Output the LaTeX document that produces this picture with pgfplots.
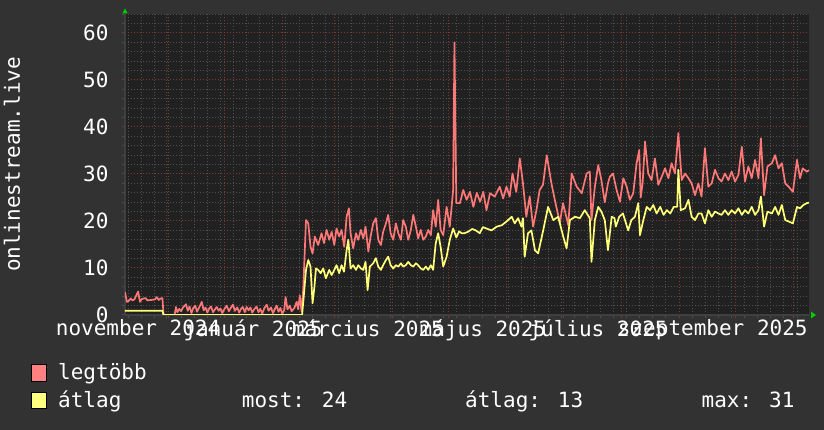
\documentclass[border=0pt]{standalone}
\usepackage{fontspec}
\setmainfont{DejaVu Sans Mono}
\usepackage{pgfplots}
\pgfplotsset{compat=1.18}
\definecolor{bgc}{HTML}{323232}
\definecolor{plotbg}{HTML}{212121}
\definecolor{majg}{HTML}{803838}
\definecolor{ming}{HTML}{505050}
\definecolor{axl}{HTML}{404040}
\definecolor{redl}{HTML}{FF7878}
\definecolor{yell}{HTML}{FFFF78}
\definecolor{legr}{HTML}{FF8080}
\definecolor{legy}{HTML}{FFFF80}
\begin{document}
\begin{tikzpicture}[font=\fontsize{21}{25}\selectfont]
\fill[bgc] (-125pt,-115pt) rectangle (699pt,315pt);
\begin{axis}[
  at={(0pt,0pt)}, anchor=south west,
  scale only axis, width=684pt, height=301pt,
  xmin=8, xmax=373.4, ymin=0, ymax=64.04,
  axis background/.style={fill=plotbg},
  axis lines*=left,
  axis line style={draw=axl, line width=2pt},
  xtick={30,61,92,120,151,181,212,242,273,304,334,365},
  xticklabels={},
  minor xtick={10,17,...,374},
  extra x ticks={15,76.4,137.8,199.2,260.7,322},
  extra x tick labels={november 2024,január 2025,március 2025,május 2025,július 2025,szeptember 2025},
  extra x tick style={grid=none, major tick length=0pt},
  ytick={0,10,...,60},
  minor ytick={2,4,...,64},
  grid=both,
  major grid style={draw=majg, line width=1pt, dash pattern=on 1pt off 2pt},
  minor grid style={draw=ming, line width=1pt, dash pattern=on 1pt off 2pt},
  tick align=outside,
  major tick length=3pt, minor tick length=3pt,
  major tick style={draw=majg, line width=1pt},
  minor tick style={draw=ming, line width=1pt},
  /pgf/number format/assume math mode=true,
  tick label style={text=white, font=\fontsize{21}{25}\selectfont},
  yticklabel style={anchor=east, xshift=-10pt},
  xticklabel style={anchor=north, yshift=-1pt},
  ylabel={onlinestream.live},
  ylabel style={at={(axis description cs:-0.1652,0.5)}, anchor=center, text=white, font=\fontsize{21}{25}\selectfont},
  clip=true,
]
\addplot[redl, line width=1.7pt, line join=round] table {
8 4.9
9 2.8
10 3.0
11 3.5
12 3.1
13 3.3
15 5.0
16 2.8
17 3.4
19 3.6
20 3.1
22 3.2
24 3.3
25 3.8
26 3.2
27 3.5
28 3.6
28.6 0
34.5 0
35.2 1.7
36 0.6
37 1.3
38 0.8
39 1.6
40.6 2.3
41.5 0.9
42.5 1.8
43.5 0.4
44.5 1.5
45.5 2.0
46.5 0.7
48 1.9
49 2.8
50 1.0
51 1.6
52 0.5
53 1.4
54 1.8
55 0.6
57 1.7
58 0.9
59 1.4
60 0.4
61 1.2
62.3 2.0
63.5 0.8
64.5 1.5
65.7 2.2
66.7 0.9
68 1.6
69 0.5
70 1.3
71 1.7
72 0.6
73 1.7
74 1.0
75 1.6
76 0.5
77 1.2
78.3 1.8
79.3 0.6
80.3 1.3
81.3 0.3
82.5 1.5
83.7 2.2
84.7 0.9
86 1.6
87 0.4
88 1.2
89 2.0
90 0.7
91 1.5
92 0.3
93 1.0
93.8 3.8
94.8 1.2
96 2.0
97 0.8
98.5 1.5
99.7 2.8
100.5 1.2
101.4 4.2
102.3 0.8
103.2 5.3
104.7 20.2
105.9 19.5
107.1 14.5
108.2 13.1
109.4 16.7
111.2 14.9
113 17.4
114.3 15.3
115.7 18.1
117.1 16
118.4 17.7
119.8 14.9
121 18.4
122.4 16.7
123.7 18.1
125.1 14.5
126.4 20.9
127.6 22.7
128.5 17.4
129.9 14.2
131.4 17.4
132.6 16
134 18.1
135.3 16.3
136.5 18.8
138 13.5
139.2 16.7
140.6 19.5
142 20.6
143.3 16
144.7 14.9
145.9 17.7
147.4 19.5
148.6 21.3
149.9 17.4
151.3 16
152.7 19.5
154 17.4
155.4 16
156.6 20.2
158 18.8
159.3 16
160.7 18.1
162 21.3
163.4 18.8
164.6 16.3
166 18.1
167.3 16
168.7 16.7
170 18.1
171.4 17
172.6 22.3
174 18.8
175.3 24.5
176.6 18.1
178 17
179.8 23
181.5 18.8
183.3 26.6
184 58
185 23.8
186.9 23.8
188.7 26.6
190.5 24.5
192.3 26.2
194.1 23
195.9 26
197.7 24.1
199.4 26.2
201.1 22.3
203 25.9
205.5 25.2
208.2 27.3
210 24.8
211.8 27.3
213.5 25.2
215 30.1
217 26.2
218.9 33.3
220.6 28
222.4 20.9
224.2 25.2
226 18.8
227.8 22.3
229.5 26.6
231.3 27.7
233.3 34
235.8 28
237.6 24.5
240.3 19.6
242 23.8
244.8 19.1
246.6 30.1
249.3 27.3
252 25.9
254.6 30.1
256.3 30.5
257.2 20.2
259 27.3
260.8 31.9
262.5 28.7
264.3 24
266 28
267 29.4
268.7 30.1
270.6 26.6
272.4 24.1
274.2 29.1
276 27.3
277.7 24.5
279.5 25.9
281.3 32.3
282.7 35.1
283.5 25
284.5 28
285.8 36.9
287.5 30.1
289.3 28.7
291.1 33.3
292.9 27.7
294.7 29.4
296.5 31.2
298.3 29.1
300 32.3
301.8 30.1
303.6 38.7
305.4 28.7
307.2 30.1
309 29.1
310.7 28
312.5 25.5
314.3 28
316 25.2
317.8 35.5
319.6 27.3
321.4 28
323.2 30.9
325 29.1
326.7 28.4
328.5 30.1
330.3 28.7
332.1 30.5
333.9 28.4
335.7 29.8
337.5 35.8
339.2 28.4
341 31.6
342.8 29.1
344.6 33
346.4 29.1
347.7 37.6
349.4 25.5
351.2 31.6
353.6 32.3
355.3 34
357.1 31.2
358.9 32.3
360.7 28
362.5 27.3
364.8 26.2
367 33
368.6 29.1
370 31.2
372.2 30.5
373.4 30.8
};
\addplot[yell, line width=1.7pt, line join=round] table {
8 0.9
28 0.9
28.6 0
102.6 0
103.5 4
104.7 9.6
105.9 11.7
107.1 10.3
108.2 2.5
109.2 6
110 9.9
111.2 9.6
112.5 8.9
113.9 9.9
115.3 7.8
117.1 9.6
118.4 8.5
119.8 9.6
121 10.6
122.4 8.9
123.7 10.6
125 9.2
126.4 13.8
127.3 16
128.5 9.9
129.9 10.6
131.4 9.6
132.6 10.6
134 9.9
135.3 9.6
136.5 11.3
137.6 5.3
138.8 10.3
140.6 11
142 12.1
143.3 10.3
144.7 9.6
145.9 10.6
147.4 11.7
148.6 12.4
149.9 10.6
151.3 9.9
152.7 10.6
154 10.3
155.4 11
156.6 10.3
158 10.6
159.3 11.3
160.7 10.6
162 10.3
163.4 11
164.6 10.6
166 9.9
167.3 9.6
168.7 10.3
170 9.6
171.4 10.6
172.6 9.6
174 15.3
175.3 17.4
176.6 14.5
178 10.3
179.8 12.4
181.5 16
183.3 18.4
185 16.5
186.5 17.8
187.8 17.4
189.4 17.4
191.2 17.7
193.5 18.3
195.4 18
197.5 17.4
199.2 18.7
201.1 18.4
203.8 18
206.6 18.8
209.3 19.1
211.8 19.9
213.5 20.5
214.6 20.9
216.2 19.5
218 20.6
219.8 18.8
220.6 20.6
221.5 12.4
223.3 17.4
225.1 18
227 13.8
228.7 13.1
231.4 18
234 23
236.8 20.2
239.4 20.9
242.1 16.7
243.9 14.2
245.7 20.2
248.4 20.9
251 20.6
253.6 22.3
256.3 20.6
257.2 11.3
259 20.2
260.8 23
262.5 22
264.3 20.2
266 13.8
268 20.9
269.5 20.6
270.2 18.8
272 20.9
274 21.6
276.8 18
278.5 20.2
280.4 20.9
282.2 23.8
283.1 17
284.9 20.2
286.7 23
288.5 22.3
290.2 23.4
292 21.6
293.9 23
295.7 21.3
297.5 22.3
299.3 21.6
301.1 23
303 23
303.6 30.9
304.9 22.3
307.2 22.7
309 24.5
310.7 20.9
312.5 20.2
314.3 21.6
316 21.6
317.8 19.5
319.6 22.3
321.4 20.9
323.2 22
325 21.6
326.7 21.3
328.5 22.3
330.3 21.3
332.1 22.3
333.9 21.6
335.7 22.7
337.5 21.3
339.2 22.3
341 21.6
342.8 23
344.6 21.3
346.4 22.3
347.7 25.2
349.4 18.8
351.2 22
353.6 21.6
355.3 23
357.1 21.3
358.9 23.4
360.7 20.2
362.5 19.9
364.8 19.5
367 23
368.6 22.7
370.4 23.4
372.2 23.8
373.4 23.9
};
\end{axis}
% axis arrows
\fill[green!80!black] (-2.7pt,301.5pt) -- (2.7pt,301.5pt) -- (0pt,306.5pt) -- cycle;
\fill[green!80!black] (686pt,3.5pt) -- (686pt,-3.5pt) -- (691pt,0pt) -- cycle;
% legend
\filldraw[fill=legr, draw=black, line width=1pt] (-93.5pt,-67pt) rectangle (-78pt,-50pt);
\node[anchor=base west, inner sep=0pt, text=white] at (-67pt,-65pt) {legtöbb};
\filldraw[fill=legy, draw=black, line width=1pt] (-93.5pt,-94pt) rectangle (-78pt,-78pt);
\node[anchor=base west, inner sep=0pt, text=white] at (-67pt,-93pt) {átlag};
\node[anchor=base west, inner sep=0pt, text=white] at (116.7pt,-93pt) {most: 24};
\node[anchor=base west, inner sep=0pt, text=white] at (340pt,-93pt) {átlag: 13};
\node[anchor=base west, inner sep=0pt, text=white] at (576.5pt,-93pt) {max: 31};
\pgfresetboundingbox
\path[use as bounding box] (-125pt,-115pt) rectangle (699pt,315pt);
\end{tikzpicture}
\end{document}
